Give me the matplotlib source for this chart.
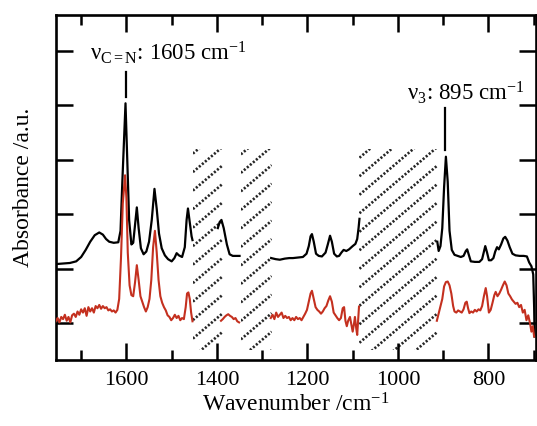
import numpy as np
import matplotlib
matplotlib.use("Agg")
import matplotlib.pyplot as plt
from matplotlib.patches import Rectangle
from matplotlib.ticker import MultipleLocator

plt.rcParams['font.family'] = ['Liberation Serif', 'DejaVu Serif']
plt.rcParams['mathtext.fontset'] = 'custom'
plt.rcParams['mathtext.rm'] = 'Liberation Serif'
plt.rcParams['mathtext.it'] = 'Liberation Serif:italic'
plt.rcParams['mathtext.bf'] = 'Liberation Serif:bold'

NAN = np.nan
# ---------------- data (wavenumber cm-1, absorbance a.u.) ----------------
black_x = [1756, 1740, 1725, 1711, 1700, 1690, 1680, 1670, 1660, 1652, 1645, 1638, 1628, 1618,
           1613, 1609, 1602, 1598, 1594, 1589, 1585, 1581, 1577, 1573, 1568, 1562, 1556, 1550,
           1544, 1538, 1533, 1528, 1522, 1515, 1508, 1500, 1494, 1489, 1484, 1477, 1471, 1467,
           1464, 1460, 1456, 1454, NAN,
           1398, 1394, 1390, 1385, 1378, 1372, 1365, 1357, 1350, NAN,
           1280, 1270, 1261, 1250, 1240, 1232, 1220, 1210, 1202, 1197, 1193, 1190, 1186, 1181,
           1175, 1168, 1160, 1155, 1150, 1146, 1141, 1135, 1130, 1125, 1120, 1114, 1108, 1100,
           1094, 1090, 1087, 1085, NAN,
           913, 910, 906, 902, 898, 894, 890, 886, 881, 875, 868, 861, 855, 850, 847, 843, 839,
           830, 820, 814, 810, 807, 803, 799, 794, 789, 785, 781, 777, 772, 767, 763, 758, 753,
           747, 740, 731, 722, 715, 710, 705, 701, 699, 698]
black_y = [1.09, 1.10, 1.11, 1.14, 1.22, 1.35, 1.50, 1.62, 1.67, 1.63, 1.55, 1.50, 1.48, 1.49,
           1.70, 2.60, 4.04, 3.00, 1.90, 1.45, 1.48, 1.80, 2.13, 1.75, 1.38, 1.27, 1.32, 1.50,
           1.90, 2.47, 2.10, 1.65, 1.38, 1.25, 1.18, 1.14, 1.20, 1.29, 1.25, 1.22, 1.40, 1.90,
           2.11, 1.85, 1.60, 1.53, NAN,
           1.75, 1.86, 1.90, 1.75, 1.45, 1.27, 1.24, 1.24, 1.24, NAN,
           1.20, 1.18, 1.17, 1.19, 1.20, 1.20, 1.21, 1.22, 1.28, 1.42, 1.60, 1.64, 1.50, 1.28,
           1.24, 1.23, 1.30, 1.45, 1.61, 1.50, 1.28, 1.23, 1.24, 1.30, 1.35, 1.33, 1.36, 1.42,
           1.46, 1.55, 1.75, 1.92, NAN,
           1.50, 1.33, 1.42, 1.75, 2.50, 3.06, 2.60, 1.70, 1.35, 1.26, 1.24, 1.22, 1.24, 1.33,
           1.36, 1.25, 1.14, 1.13, 1.13, 1.18, 1.32, 1.42, 1.30, 1.16, 1.16, 1.20, 1.32, 1.40,
           1.36, 1.45, 1.56, 1.59, 1.52, 1.40, 1.28, 1.25, 1.24, 1.24, 1.23, 1.12, 1.05, 0.90,
           0.30, -0.24]

red_x = [1756, 1752, 1748, 1744, 1740, 1736, 1732, 1728, 1724, 1720, 1716, 1712, 1708, 1704,
         1700, 1696, 1692, 1688, 1684, 1680, 1676, 1672, 1668, 1664, 1660, 1656, 1652, 1648,
         1644, 1640, 1636, 1632, 1628, 1624, 1620, 1616, 1612, 1608, 1603, 1600, 1597, 1593,
         1589, 1585, 1581, 1577, 1573, 1569, 1565, 1561, 1557, 1553, 1549, 1545, 1541, 1537,
         1533, 1529, 1525, 1521, 1517, 1513, 1509, 1505, 1501, 1497, 1493, 1489, 1485, 1481,
         1477, 1473, 1469, 1466, 1463, 1460, 1457, 1454, NAN,
         1391, 1387, 1383, 1379, 1375, 1371, 1367, 1363, 1359, 1355, 1351, NAN,
         1281, 1277, 1273, 1269, 1265, 1261, 1257, 1253, 1249, 1245, 1241, 1237, 1233, 1229,
         1225, 1221, 1217, 1213, 1209, 1205, 1201, 1197, 1193, 1190, 1186, 1182, 1178, 1174,
         1170, 1166, 1162, 1158, 1154, 1150, 1146, 1142, 1138, 1134, 1130, 1126, 1122, 1119,
         1116, 1113, 1110, 1106, 1103, 1100, 1097, 1095, 1092, 1090, 1088, 1086, NAN,
         914, 911, 908, 905, 902, 898, 894, 890, 886, 882, 878, 875, 871, 867, 863, 859, 855,
         851, 848, 845, 842, 838, 834, 830, 826, 822, 818, 814, 810, 806, 803, 799, 795, 791,
         787, 784, 780, 776, 772, 768, 764, 760, 756, 752, 748, 744, 740, 736, 732, 728, 724,
         720, 716, 712, 708, 705, 702, 699]
red_y = [0.04, 0.10, 0.02, 0.12, 0.08, 0.16, 0.05, 0.12, 0.02, 0.15, 0.18, 0.12, 0.22, 0.16,
         0.26, 0.20, 0.28, 0.14, 0.30, 0.22, 0.28, 0.20, 0.32, 0.28, 0.34, 0.27, 0.32, 0.28,
         0.30, 0.24, 0.26, 0.22, 0.24, 0.20, 0.25, 0.45, 1.20, 2.20, 2.72, 2.30, 1.30, 0.70,
         0.52, 0.50, 0.75, 1.07, 0.80, 0.50, 0.40, 0.30, 0.22, 0.30, 0.45, 0.80, 1.40, 1.70,
         1.30, 0.80, 0.50, 0.38, 0.30, 0.24, 0.15, 0.12, 0.06, 0.10, 0.16, 0.10, 0.14, 0.06,
         0.10, 0.08, 0.30, 0.55, 0.57, 0.45, 0.20, 0.04, NAN,
         0.05, 0.08, 0.12, 0.15, 0.17, 0.14, 0.12, 0.08, 0.10, 0.04, 0.02, NAN,
         0.10, 0.16, 0.08, 0.20, 0.12, 0.16, 0.20, 0.10, 0.14, 0.10, 0.12, 0.06, 0.10, 0.06,
         0.12, 0.08, 0.10, 0.06, 0.12, 0.18, 0.25, 0.40, 0.55, 0.60, 0.45, 0.30, 0.25, 0.22,
         0.18, 0.22, 0.28, 0.32, 0.42, 0.50, 0.40, 0.20, 0.15, 0.10, 0.06, 0.10, 0.28, 0.30,
         0.05, -0.05, 0.05, 0.12, -0.02, -0.15, 0.00, 0.12, -0.10, -0.21, 0.05, 0.31, NAN,
         0.05, 0.15, 0.25, 0.35, 0.45, 0.68, 0.76, 0.77, 0.70, 0.55, 0.32, 0.22, 0.20, 0.24,
         0.22, 0.20, 0.26, 0.38, 0.40, 0.28, 0.19, 0.22, 0.20, 0.25, 0.22, 0.26, 0.24, 0.32,
         0.50, 0.65, 0.50, 0.20, 0.25, 0.38, 0.52, 0.58, 0.50, 0.55, 0.62, 0.70, 0.77, 0.70,
         0.55, 0.50, 0.44, 0.40, 0.36, 0.38, 0.30, 0.34, 0.20, 0.25, 0.06, 0.15, 0.00, -0.15,
         -0.05, -0.24]

# excluded (hatched) spectral windows, cm-1 (left edge, right edge)
hatch_left = [1453, 1347, 1085]
hatch_right = [1387, 1279, 912]
hatch_bottom = -0.49
hatch_top = 3.20

x_major = [1600, 1400, 1200, 1000, 800]
y_ticks = [0, 1, 2, 3, 4, 5]

label_cn = "ν$_{\\mathrm{C=N}}$: 1605 cm$^{-1}$"
label_v3 = "ν$_{3}$: 895 cm$^{-1}$"
peak_cn = 1602
peak_v3 = 895

# ---------------- figure ----------------
W, H = 537, 426
fig = plt.figure(figsize=(W / 100, H / 100), dpi=100)
ax_l, ax_r, ax_t, ax_b = 56, 535.5, 15, 360
ax = fig.add_axes([ax_l / W, (H - ax_b) / H, (ax_r - ax_l) / W, (ax_b - ax_t) / H])
xlim = (1755.6, 696.0)
ylim = (-0.67, 5.66)
ax.set_xlim(*xlim)
ax.set_ylim(*ylim)

# hatching (dotted diagonal lines) in excluded windows
sx = (ax_r - ax_l) / (xlim[0] - xlim[1])
sy = (ax_b - ax_t) / (ylim[1] - ylim[0])
slope = 0.85
spacing = 18.5
for xa, xb in zip(hatch_left, hatch_right):
    w = (xa - xb) * sx
    h = (hatch_top - hatch_bottom) * sy
    rect = Rectangle((xb, hatch_bottom), xa - xb, hatch_top - hatch_bottom,
                     transform=ax.transData, fill=False, lw=0)
    ax.add_patch(rect)
    c = -slope * w
    while c < h:
        px = np.array([0.0, w])
        py = c + slope * px
        line, = ax.plot(xa - px / sx, hatch_bottom + py / sy, color='#262626',
                        lw=1.9, linestyle=(0, (0.8, 0.7)), zorder=1)
        line.set_clip_path(rect)
        c += spacing

ax.plot(black_x, black_y, color='black', lw=1.6, zorder=3)
ax.plot(red_x, red_y, color='#c4301f', lw=1.5, zorder=3)

# annotations
ax.plot([peak_cn, peak_cn], [4.16, 4.61], color='black', lw=1.6)
ax.plot([peak_v3, peak_v3], [3.18, 3.95], color='black', lw=1.6)
ax.text(1680.6, 4.83, label_cn, fontsize=16.5, ha='left', va='baseline')
ax.text(981, 4.10, label_v3, fontsize=16.5, ha='left', va='baseline')

ax.set_xticks(x_major)
ax.xaxis.set_minor_locator(MultipleLocator(100))
ax.set_yticks(y_ticks)
ax.set_yticklabels([])
ax.tick_params(which='both', direction='in', top=True, right=True, width=1.8,
               labelsize=16, pad=8)
ax.tick_params(which='major', length=12.5)
ax.tick_params(which='minor', length=7)
for s in ax.spines.values():
    s.set_linewidth(1.9)

ax.set_xlabel("Wavenumber /cm$^{-1}$", fontsize=17, labelpad=2)
ax.set_ylabel("Absorbance /a.u.", fontsize=17, labelpad=8)

fig.savefig("out.png", dpi=100)
